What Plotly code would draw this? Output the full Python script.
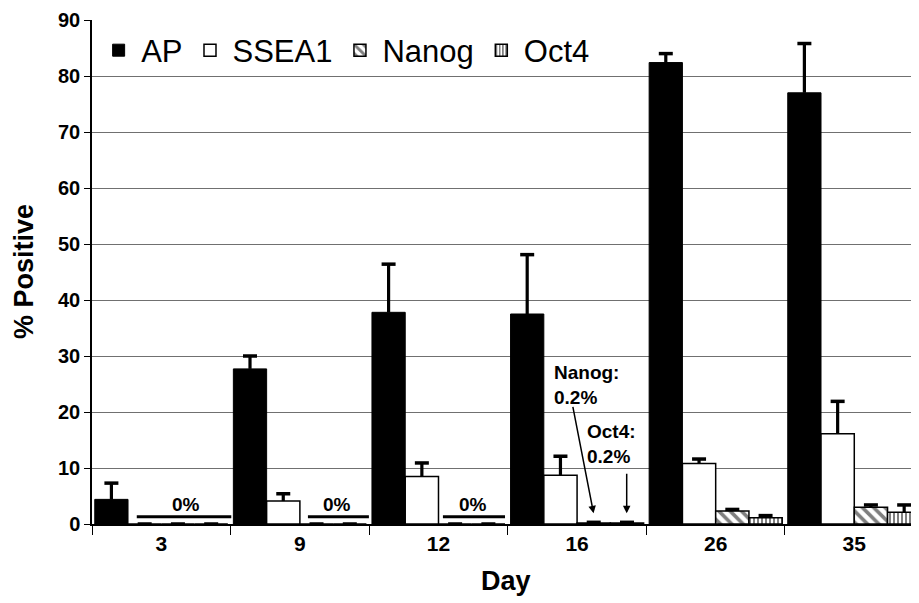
import plotly.graph_objects as go

days = ["3", "9", "12", "16", "26", "35"]
ap = [4.4, 27.7, 37.8, 37.5, 82.4, 77.0]
ap_err = [2.9, 2.3, 8.6, 10.6, 1.6, 8.8]
ssea1 = [0, 4.1, 8.5, 8.7, 10.8, 16.1]
ssea1_err = [0, 1.3, 2.4, 3.4, 0.8, 5.8]
nanog = [0, 0, 0, 0.2, 2.3, 3.0]
nanog_err = [0, 0, 0, 0.1, 0.3, 0.4]
oct4 = [0, 0, 0, 0.2, 1.1, 2.1]
oct4_err = [0, 0, 0, 0.1, 0.4, 1.3]

FONT = "Liberation Sans, Arial, sans-serif"

series = [
    ("AP", ap, ap_err, dict(color="black", line=dict(color="black", width=1))),
    ("SSEA1", ssea1, ssea1_err, dict(color="white", line=dict(color="black", width=1.5))),
    ("Nanog", nanog, nanog_err, dict(color="white", line=dict(color="black", width=1.5),
                                     pattern=dict(shape="\\", fgcolor="black", bgcolor="white",
                                                  size=8, solidity=0.45))),
    ("Oct4", oct4, oct4_err, dict(color="white", line=dict(color="black", width=1.5),
                                  pattern=dict(shape="|", fgcolor="black", bgcolor="white",
                                               size=4, solidity=0.5))),
]

fig = go.Figure()
for i, (name, vals, errs, mk) in enumerate(series):
    fig.add_trace(go.Bar(name=name, x=days, y=vals, offsetgroup=str(i),
                         error_y=dict(type="data", array=errs, arrayminus=[0] * len(errs),
                                      symmetric=False, color="black", thickness=3.2, width=0),
                         marker=mk))
# error-bar caps at value + error
for i, (name, vals, errs, mk) in enumerate(series):
    fig.add_trace(go.Scatter(x=days, y=[v + e for v, e in zip(vals, errs)], mode="markers",
                             offsetgroup=str(i), showlegend=False, hoverinfo="skip",
                             marker=dict(symbol="line-ew", size=10, color="black",
                                         line=dict(color="black", width=3.5))))

# "0%" markers: (line start, line end, text x) in category units
zero_marks = [(-0.177, 0.505, 0.178), (1.058, 1.498, 1.268), (2.032, 2.48, 2.249)]
shapes = []
annotations = []
for x0, x1, xt in zero_marks:
    shapes.append(dict(type="line", xref="x", yref="y", x0=x0, x1=x1, y0=1.3, y1=1.3,
                       line=dict(color="black", width=3)))
    annotations.append(dict(xref="x", yref="y", x=xt, y=3.4, text="<b>0%</b>",
                            showarrow=False, font=dict(size=19, color="black", family=FONT)))

annotations += [
    dict(xref="x", yref="y", x=2.819, y=24.9, text="<b>Nanog:<br>0.2%</b>", align="left",
         xanchor="left", yanchor="middle", showarrow=False,
         font=dict(size=19, color="black", family=FONT)),
    dict(xref="x", yref="y", x=3.057, y=14.2, text="<b>Oct4:<br>0.2%</b>", align="left",
         xanchor="left", yanchor="middle", showarrow=False,
         font=dict(size=19, color="black", family=FONT)),
    dict(xref="x", yref="y", x=3.119, y=1.9, text="", showarrow=True, ax=-21, ay=-108,
         arrowhead=2, arrowsize=1, arrowwidth=1.5, arrowcolor="black"),
    dict(xref="x", yref="y", x=3.358, y=1.9, text="", showarrow=True, ax=0, ay=-41,
         arrowhead=2, arrowsize=1, arrowwidth=1.5, arrowcolor="black"),
    # axis titles
    dict(xref="paper", yref="paper", x=-0.0822, y=0.5, text="<b>% Positive</b>",
         textangle=-90, showarrow=False, xanchor="center", yanchor="middle",
         font=dict(size=27, color="black", family=FONT)),
    dict(xref="paper", yref="paper", x=0.5, y=-0.113, text="<b>Day</b>",
         showarrow=False, xanchor="center", yanchor="middle",
         font=dict(size=27, color="black", family=FONT)),
]

fig.update_layout(
    width=911, height=595,
    margin=dict(l=84, r=0, t=12, b=79),
    paper_bgcolor="white", plot_bgcolor="white",
    barmode="group", bargap=0.04, bargroupgap=0,
    scattermode="group", scattergap=0.04,
    font=dict(family=FONT, color="black"),
    showlegend=True,
    legend=dict(orientation="h", x=0.005, y=0.993, xanchor="left", yanchor="top",
                font=dict(size=31, family=FONT, color="black"), itemwidth=35,
                bgcolor="rgba(0,0,0,0)", traceorder="normal"),
    shapes=shapes,
    annotations=annotations,
    xaxis=dict(type="category", range=[-0.5, 5.467], automargin=False, showline=True,
               linecolor="black", linewidth=1.5, ticks="outside", tickson="boundaries",
               ticklen=9, tickcolor="black", tickwidth=1, showgrid=False,
               tickfont=dict(size=21, family=FONT, color="black", weight="bold")),
    yaxis=dict(range=[0, 90], dtick=10, automargin=False, showline=True, linecolor="black",
               linewidth=1.5, ticks="outside", ticklen=6, tickcolor="black", tickwidth=1,
               showgrid=True, gridcolor="#707070", gridwidth=1, zeroline=False,
               ticklabeloverflow="allow",
               tickfont=dict(size=20, family=FONT, color="black", weight="bold")),
)

fig.write_html("out.html")
